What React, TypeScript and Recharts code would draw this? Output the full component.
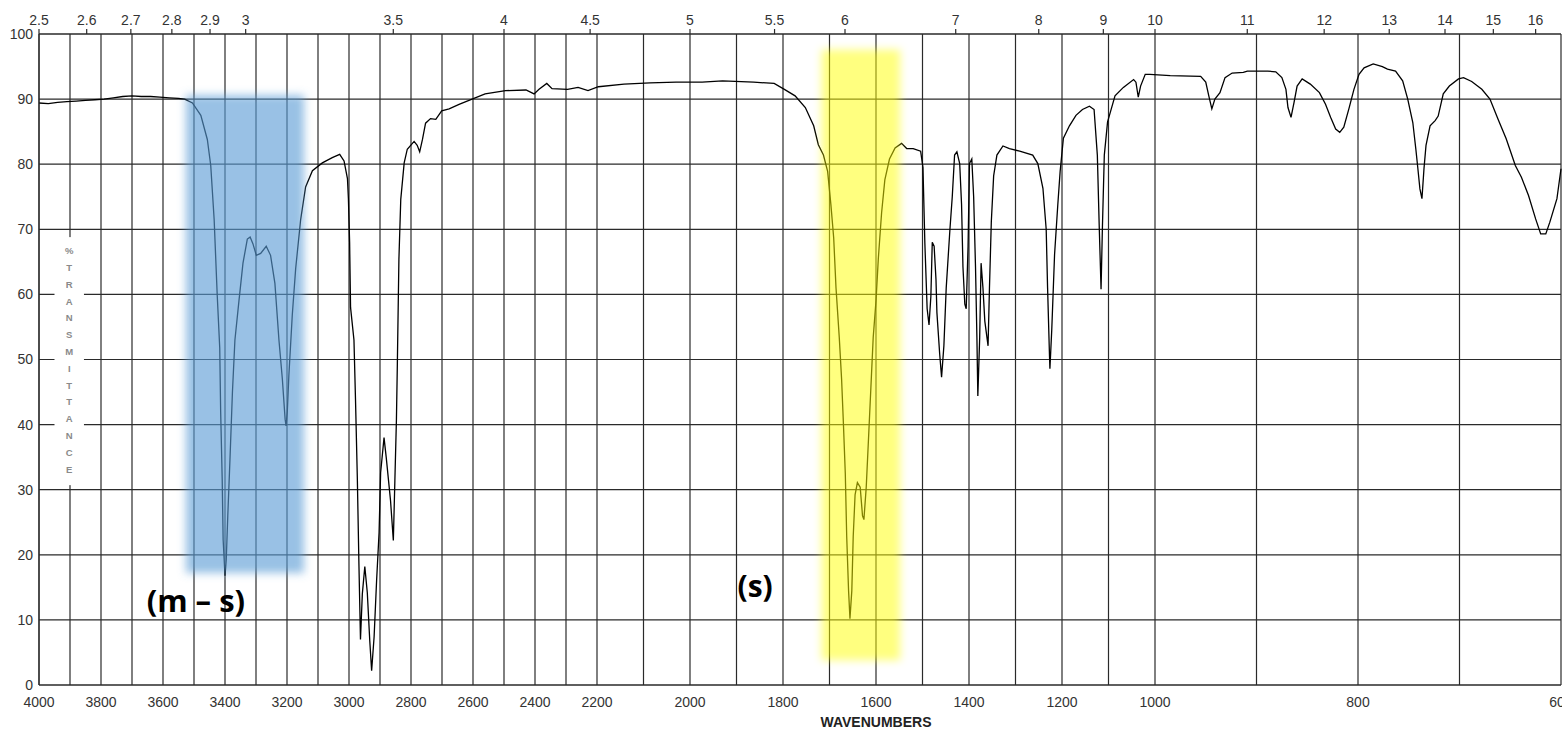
import { ComposedChart, Line, XAxis, YAxis, CartesianGrid, ReferenceArea, ReferenceDot } from 'recharts'

document.body.style.margin = '0'

// the wavenumber axis is drawn in three linear pieces: [cm-1, units from the left edge]
const SCALE_BREAKS: [number, number][] = [[4000, 0], [2200, 558], [1000, 1116], [600, 1522]]
const U_MAX = 1522

const toU = (w: number) => {
  for (let i = 0; i < SCALE_BREAKS.length - 1; i++) {
    const [w0, u0] = SCALE_BREAKS[i]
    const [w1, u1] = SCALE_BREAKS[i + 1]
    if (w <= w0 && w >= w1) return u0 + ((w0 - w) / (w0 - w1)) * (u1 - u0)
  }
  return w > 4000 ? 0 : U_MAX
}
const fromU = (u: number) => {
  for (let i = 0; i < SCALE_BREAKS.length - 1; i++) {
    const [w0, u0] = SCALE_BREAKS[i]
    const [w1, u1] = SCALE_BREAKS[i + 1]
    if (u >= u0 && u <= u1) return w0 - ((u - u0) / (u1 - u0)) * (w0 - w1)
  }
  return 600
}

const WAVENUMBERS = [
  4000, 3970, 3940, 3910, 3880, 3850, 3820, 3790, 3760, 3730, 3700, 3670, 3640, 3610, 3580, 3550, 3530, 3505, 3478, 3457,
  3446, 3435, 3425, 3417, 3414, 3409, 3406, 3400, 3396, 3391, 3384, 3376, 3368, 3355, 3342, 3328, 3319, 3310, 3299, 3285,
  3267, 3253, 3239, 3226, 3215, 3206, 3203, 3199, 3194, 3183, 3172, 3156, 3140, 3118, 3086, 3054, 3030, 3016, 3005, 3002,
  2998, 2995, 2984, 2979, 2973, 2968, 2963, 2957, 2949, 2941, 2933, 2927, 2919, 2911, 2903, 2898, 2887, 2880, 2866, 2857,
  2852, 2847, 2844, 2839, 2833, 2822, 2812, 2790, 2780, 2772, 2763, 2753, 2737, 2720, 2701, 2677, 2645, 2597, 2561, 2495,
  2429, 2403, 2387, 2362, 2345, 2295, 2261, 2229, 2197, 2142, 2086, 2030, 1974, 1930, 1863, 1819, 1797, 1774, 1752, 1734,
  1724, 1713, 1704, 1697, 1691, 1686, 1679, 1674, 1670, 1666, 1663, 1659, 1656, 1652, 1649, 1645, 1640, 1634, 1629, 1626,
  1621, 1616, 1611, 1606, 1600, 1595, 1588, 1581, 1571, 1559, 1545, 1534, 1520, 1504, 1499, 1495, 1490, 1486, 1482, 1479,
  1475, 1471, 1469, 1463, 1459, 1454, 1449, 1441, 1436, 1431, 1426, 1420, 1416, 1413, 1409, 1406, 1402, 1399, 1394, 1390,
  1386, 1383, 1381, 1377, 1374, 1370, 1366, 1359, 1356, 1352, 1347, 1340, 1327, 1313, 1291, 1263, 1252, 1241, 1234, 1231,
  1227, 1226, 1222, 1216, 1209, 1204, 1197, 1184, 1170, 1156, 1141, 1131, 1124, 1120, 1116, 1113, 1109, 1102, 1096, 1086,
  1068, 1046, 1041, 1036, 1031, 1021, 1011, 985, 955, 950, 947, 944, 941, 936, 931, 924, 913, 909, 889, 881,
  875, 871, 869, 866, 863, 860, 855, 847, 838, 832, 827, 822, 818, 814, 809, 804, 799, 794, 785, 776,
  771, 763, 756, 751, 746, 743, 741, 739, 737, 735, 733, 729, 724, 721, 716, 710, 701, 696, 688, 678,
  670, 662, 654, 645, 639, 632, 625, 620, 615, 611, 604, 600,
]

const TRANSMITTANCE = [
  89.4, 89.3, 89.5, 89.6, 89.7, 89.8, 89.9, 90.0, 90.2, 90.4, 90.5, 90.4, 90.4, 90.3, 90.2, 90.1, 90.0, 89.4, 87.5, 83.8,
  79.8, 71.5, 59.8, 51.8, 42, 31.5, 22.3, 16.8, 19.2, 26, 34.6, 45, 53, 59, 64.8, 68.5, 68.8, 67.8, 66, 66.3,
  67.4, 66, 61.7, 53, 47, 40.8, 39.8, 42, 47.5, 56.8, 64, 71.5, 76.5, 79, 80.2, 81, 81.5, 80.5, 77.8, 74.8,
  68, 58, 53, 43.8, 31.5, 18.6, 7, 14, 18.2, 14.2, 6.8, 2.2, 7.4, 16, 23.4, 32.6, 38, 35, 28.3, 22.2,
  31.4, 40.8, 49.4, 65.4, 74.6, 80.2, 82.3, 83.5, 82.9, 81.9, 83.8, 86.3, 87, 86.9, 88.2, 88.5, 89.2, 90.1, 90.8, 91.3,
  91.4, 90.8, 91.5, 92.4, 91.6, 91.5, 91.8, 91.3, 91.9, 92.3, 92.5, 92.6, 92.6, 92.8, 92.6, 92.4, 91.5, 90.5, 88.7, 85.9,
  83, 81.4, 78.9, 73.8, 68.7, 61, 53.4, 47, 40, 32.4, 22.8, 14.5, 10.2, 14.5, 22.8, 29.2, 31.1, 30.4, 26, 25.4,
  30.4, 38, 45.7, 53.4, 59, 65.5, 72.5, 77.6, 80.8, 82.5, 83.2, 82.4, 82.4, 82, 79.5, 68, 57.8, 55.3, 59.7, 68,
  67.4, 62.3, 57.2, 50.8, 47.3, 52.1, 61, 70, 75, 81.4, 81.9, 80.1, 73.8, 64.2, 58.5, 57.8, 67.4, 80.1, 80.8, 75,
  64.2, 53.4, 44.4, 53.4, 64.8, 61, 55.9, 52.1, 61, 71.2, 78.2, 81.4, 82.8, 82.4, 82, 81.4, 80.1, 76.3, 70, 61,
  50.8, 48.6, 54.6, 66.1, 73.8, 78.9, 84, 85.9, 87.5, 88.4, 88.9, 88.4, 81.4, 70.6, 60.8, 70.6, 81.4, 86.5, 88, 90.5,
  91.8, 93, 92.6, 90.3, 92, 93.8, 93.8, 93.6, 93.5, 92.6, 90.5, 88.5, 90, 91, 93.3, 94, 94.1, 94.3, 94.3, 94.2,
  93.3, 91.5, 88.7, 87.2, 89.5, 92, 93.1, 92.3, 91, 89.2, 87.2, 85.4, 84.9, 85.7, 88.5, 91.5, 93.8, 94.8, 95.4, 95,
  94.6, 94.3, 92.8, 90, 86.4, 82.3, 79.3, 76.2, 74.7, 79.3, 82.9, 85.9, 86.7, 87.4, 90.8, 92, 93.1, 93.3, 92.7, 91.5,
  90, 86.9, 83.9, 79.8, 78, 75.2, 71.6, 69.3, 69.3, 71.1, 74.7, 79.3,
]

const WN_TICKS = [
  4000, 3900, 3800, 3700, 3600, 3500, 3400, 3300, 3200, 3100, 3000, 2900, 2800, 2700, 2600, 2500, 2400, 2300, 2200,
  2100, 2000, 1900, 1800, 1700, 1600, 1500, 1400, 1300, 1200, 1100, 1000, 900, 800, 700, 600,
]
const MICRON_TICKS = [2.5, 2.6, 2.7, 2.8, 2.9, 3, 3.5, 4, 4.5, 5, 5.5, 6, 7, 8, 9, 10, 11, 12, 13, 14, 15, 16]
const T_TICKS = [0, 10, 20, 30, 40, 50, 60, 70, 80, 90, 100]

const Y_TITLE = '%TRANSMITTANCE'
const Y_TITLE_BOX = { from: 3950, to: 3855, top: 68.8, bottom: 30.7 }

const BANDS = [
  { id: 'band-oh', from: 3526, to: 3145, top: 90.6, bottom: 17.2, color: '#5b9bd5', opacity: 0.62 },
  { id: 'band-co', from: 1717, to: 1548, top: 97.6, bottom: 3.8, color: '#ffff00', opacity: 0.5 },
]
const NOTES = [
  { text: '(m – s)', wn: 3494, t: 12.6, size: 31 },
  { text: '(s)', wn: 1860, t: 14.9, size: 30 },
]

const data = WAVENUMBERS.map((w, i) => ({ u: toU(w), t: TRANSMITTANCE[i] }))

const FONT = '"Liberation Sans", Arial, sans-serif'
const tickStyle = { fill: '#333', fontSize: 14, fontFamily: FONT }

const wnLabel = (u: number) => {
  const w = Math.round(fromU(u))
  return w % 200 === 0 ? String(w) : ''
}
const umLabel = (u: number) => String(Number((10000 / fromU(u)).toFixed(1)))

function SoftRect(props: any) {
  const { x, y, width, height, color, opacity, fid } = props
  return (
    <g>
      <defs>
        <filter id={fid} x="-20%" y="-20%" width="140%" height="140%">
          <feGaussianBlur stdDeviation="4.5" />
        </filter>
      </defs>
      <rect x={x} y={y} width={width} height={height} fill={color} fillOpacity={opacity} filter={`url(#${fid})`} />
    </g>
  )
}

function YTitle(props: any) {
  const { x, y, width, height } = props
  const cx = x + width / 2
  return (
    <g>
      <rect x={x} y={y} width={width} height={height} fill="#fff" />
      {Y_TITLE.split('').map((ch, i) => (
        <text key={i} x={cx} y={y + 17 + i * 16.8} textAnchor="middle" fontSize={9.5} fontWeight={700}
          fill="#8a8a8a" fontFamily={FONT}>{ch}</text>
      ))}
    </g>
  )
}

export default function App() {
  return (
    <div style={{ width: 1562, height: 729, overflow: 'hidden', background: '#fff' }}>
      <ComposedChart width={1562} height={729} data={data} margin={{ top: 0, right: 1, bottom: 0, left: 0 }}>
        <CartesianGrid xAxisId="wn" stroke="#2a2a2a" strokeWidth={1.2} />
        <XAxis xAxisId="wn" dataKey="u" type="number" domain={[0, U_MAX]} ticks={WN_TICKS.map(toU)}
          tickFormatter={wnLabel} interval={0} height={44} tickLine={false} tickSize={0} tickMargin={12}
          axisLine={{ stroke: '#2a2a2a', strokeWidth: 1.2 }} tick={tickStyle}
          label={{ value: 'WAVENUMBERS', position: 'insideBottom', offset: 2, dx: 76,
            style: { fontFamily: FONT, fontSize: 14, fontWeight: 700, fill: '#222' } }} />
        <XAxis xAxisId="um" orientation="top" dataKey="u" type="number" domain={[0, U_MAX]}
          ticks={MICRON_TICKS.map(m => toU(10000 / m))} tickFormatter={umLabel} interval={0} height={34}
          tickSize={5} tickMargin={4} tickLine={{ stroke: '#2a2a2a', strokeWidth: 1.2 }}
          axisLine={{ stroke: '#2a2a2a', strokeWidth: 1.2 }} tick={tickStyle} />
        <YAxis type="number" domain={[0, 100]} ticks={T_TICKS} interval={0} width={39} tickLine={false}
          tickSize={0} tickMargin={6} axisLine={{ stroke: '#2a2a2a', strokeWidth: 1.2 }} tick={tickStyle} />
        <ReferenceArea xAxisId="wn" x1={toU(Y_TITLE_BOX.from)} x2={toU(Y_TITLE_BOX.to)}
          y1={Y_TITLE_BOX.bottom} y2={Y_TITLE_BOX.top} shape={(p: any) => <YTitle {...p} />} />
        <Line xAxisId="wn" type="linear" dataKey="t" stroke="#000" strokeWidth={1.3} dot={false}
          activeDot={false} isAnimationActive={false} />
        {BANDS.map(b => (
          <ReferenceArea key={b.id} xAxisId="wn" x1={toU(b.from)} x2={toU(b.to)} y1={b.bottom} y2={b.top}
            zIndex={450} shape={(p: any) => <SoftRect {...p} color={b.color} opacity={b.opacity} fid={b.id} />} />
        ))}
        {NOTES.map(n => (
          <ReferenceDot key={n.text} xAxisId="wn" x={toU(n.wn)} y={n.t} r={0} zIndex={460}
            shape={(p: any) => (
              <text x={p.cx} y={p.cy + 9} textAnchor="middle" fontSize={n.size} fontWeight={700} fill="#000"
                fontFamily='"Open Sans", sans-serif'>{n.text}</text>
            )} />
        ))}
      </ComposedChart>
    </div>
  )
}
